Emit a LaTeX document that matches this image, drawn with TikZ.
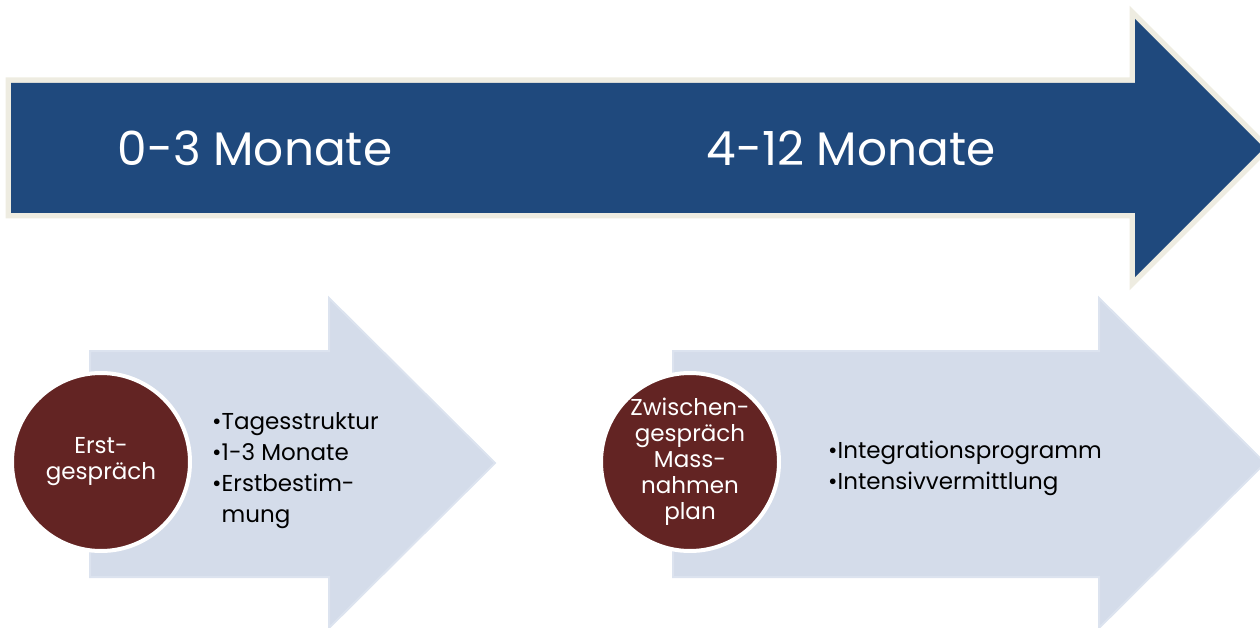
\documentclass[tikz,border=0pt]{standalone}
\usepackage{fontspec}
\setmainfont{Poppins}
\definecolor{bigblue}{RGB}{31,73,125}
\definecolor{cream}{RGB}{238,236,225}
\definecolor{lightarrow}{RGB}{212,220,234}
\definecolor{lightedge}{RGB}{220,227,239}
\definecolor{maroon}{RGB}{99,36,35}
\tikzset{
  phase/.style={text=white, font=\fontsize{47}{56}\selectfont, inner sep=0},
  stepcircle/.style={circle, fill=maroon, draw=white, line width=4, minimum size=178, inner sep=0,
    text=white, align=center, font=\fontsize{23}{26}\selectfont},
  itemlist/.style={text=black, align=left, inner sep=0, font=\fontsize{23}{31}\selectfont},
  lightshape/.style={fill=lightarrow, draw=lightedge, line width=2, line join=miter},
}
\begin{document}
\begin{tikzpicture}[x=1pt,y=-1pt]
\useasboundingbox (0,0) rectangle (1260,628);
% big arrow
\draw[cream, line width=11, line join=miter]
  (11,83) -- (1135,83) -- (1135,19) -- (1264,148) -- (1135,277) -- (1135,213) -- (11,213) -- cycle;
\fill[bigblue]
  (11,83) -- (1135,83) -- (1135,19) -- (1264,148) -- (1135,277) -- (1135,213) -- (11,213) -- cycle;
\node[phase] (p1) at (255,148) {0-3 Monate};
\node[phase] (p2) at (851,148) {4-12 Monate};
% light arrows
\draw[lightshape] (90,351) -- (329,351) -- (329,298) -- (495,463) -- (329,628) -- (329,577) -- (90,577) -- cycle;
\draw[lightshape] (673,351) -- (1099,351) -- (1099,298) -- (1265,463) -- (1099,628) -- (1099,577) -- (673,577) -- cycle;
% circles
\node[stepcircle] (c1) at (101,462) {Erst-\\gespräch};
\node[stepcircle] (c2) at (690,462) {Zwischen-\\gespräch\\Mass-\\nahmen\\plan};
% lists
\node[itemlist, anchor=north west] (l1) at (212,412)
  {•Tagesstruktur\\•1-3 Monate\\•Erstbestim-\\\hphantom{•}mung};
\node[itemlist, anchor=north west] (l2) at (828,441)
  {•Integrationsprogramm\\•Intensivvermittlung};
\end{tikzpicture}
\end{document}
